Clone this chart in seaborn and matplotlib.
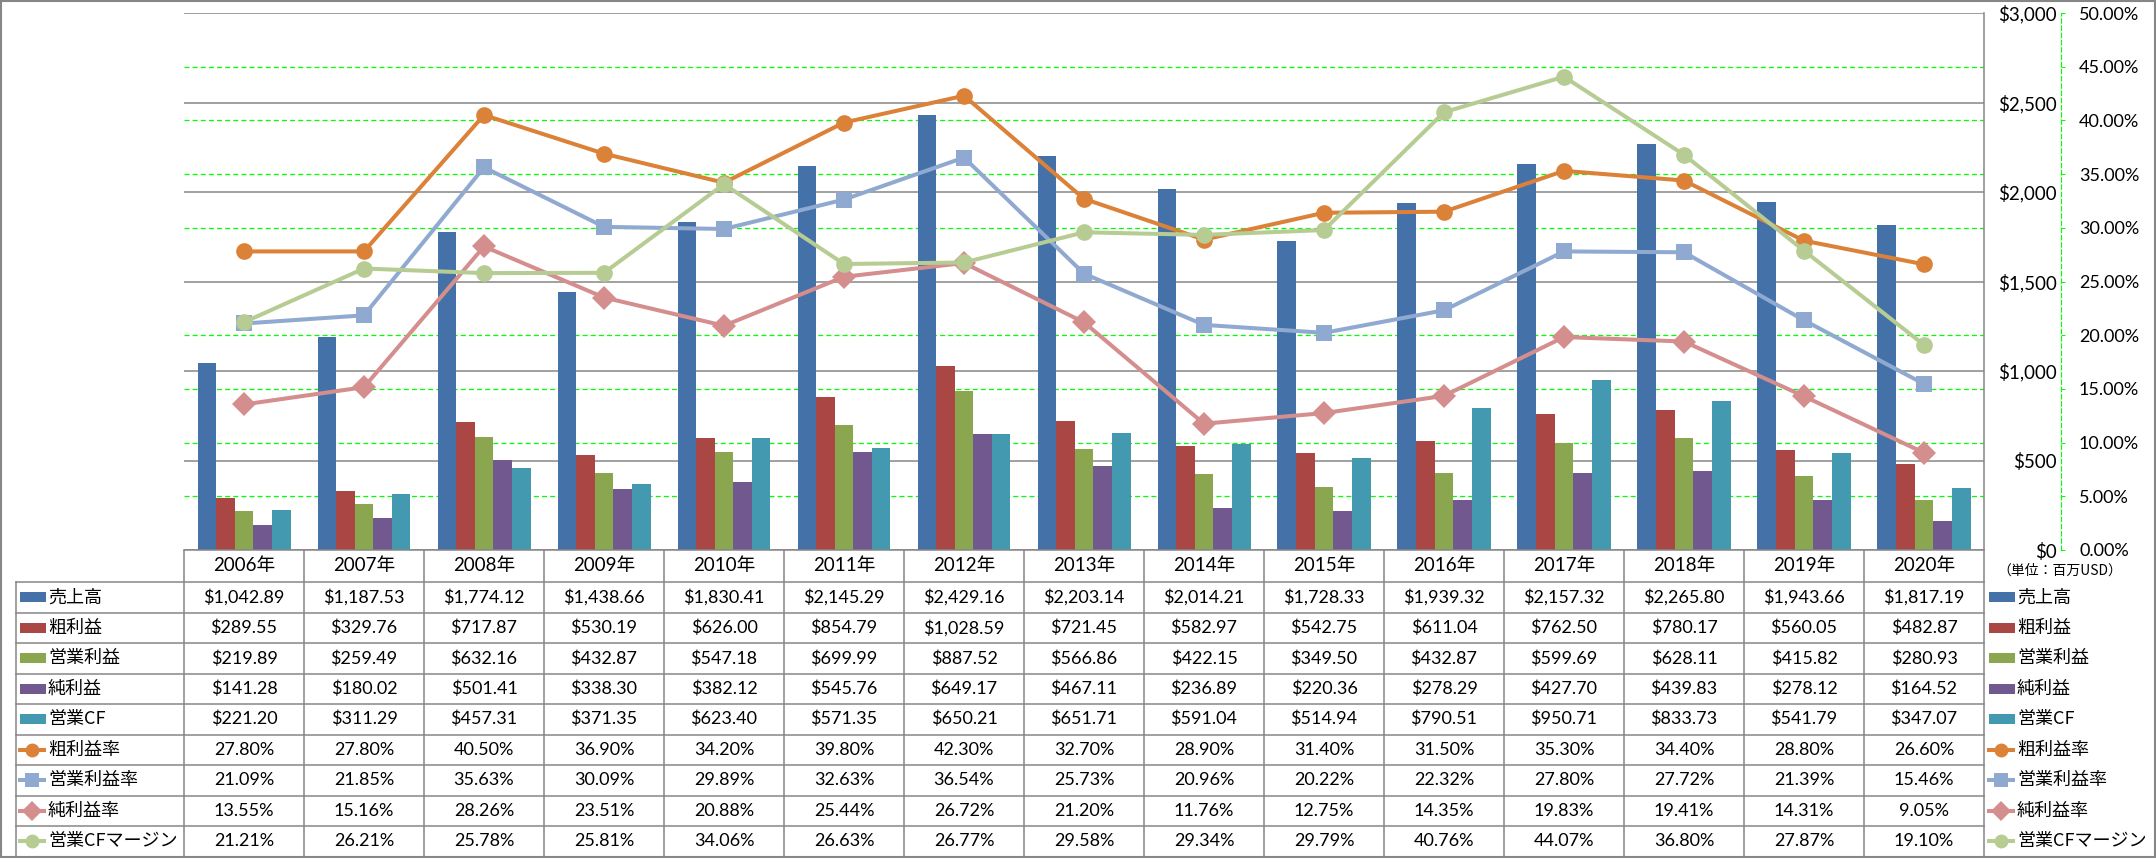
import matplotlib
matplotlib.use("Agg")
import matplotlib.pyplot as plt
import matplotlib.transforms as mtransforms
from matplotlib.patches import Rectangle
from matplotlib.ticker import MultipleLocator, FuncFormatter
import pandas as pd
import seaborn as sns

plt.rcParams["font.family"] = ["Lato", "Noto Sans CJK JP", "DejaVu Sans"]

# Data (million USD / %)
years = ["2006年", "2007年", "2008年", "2009年", "2010年", "2011年", "2012年", "2013年",
         "2014年", "2015年", "2016年", "2017年", "2018年", "2019年", "2020年"]

sales = [1042.89, 1187.53, 1774.12, 1438.66, 1830.41, 2145.29, 2429.16, 2203.14,
         2014.21, 1728.33, 1939.32, 2157.32, 2265.80, 1943.66, 1817.19]
gross_profit = [289.55, 329.76, 717.87, 530.19, 626.00, 854.79, 1028.59, 721.45,
                582.97, 542.75, 611.04, 762.50, 780.17, 560.05, 482.87]
op_profit = [219.89, 259.49, 632.16, 432.87, 547.18, 699.99, 887.52, 566.86,
             422.15, 349.50, 432.87, 599.69, 628.11, 415.82, 280.93]
net_profit = [141.28, 180.02, 501.41, 338.30, 382.12, 545.76, 649.17, 467.11,
              236.89, 220.36, 278.29, 427.70, 439.83, 278.12, 164.52]
op_cf = [221.20, 311.29, 457.31, 371.35, 623.40, 571.35, 650.21, 651.71,
         591.04, 514.94, 790.51, 950.71, 833.73, 541.79, 347.07]

gross_margin = [27.80, 27.80, 40.50, 36.90, 34.20, 39.80, 42.30, 32.70,
                28.90, 31.40, 31.50, 35.30, 34.40, 28.80, 26.60]
op_margin = [21.09, 21.85, 35.63, 30.09, 29.89, 32.63, 36.54, 25.73,
             20.96, 20.22, 22.32, 27.80, 27.72, 21.39, 15.46]
net_margin = [13.55, 15.16, 28.26, 23.51, 20.88, 25.44, 26.72, 21.20,
              11.76, 12.75, 14.35, 19.83, 19.41, 14.31, 9.05]
cf_margin = [21.21, 26.21, 25.78, 25.81, 34.06, 26.63, 26.77, 29.58,
             29.34, 29.79, 40.76, 44.07, 36.80, 27.87, 19.10]

bar_names = ["売上高", "粗利益", "営業利益", "純利益", "営業CF"]
bar_series = [sales, gross_profit, op_profit, net_profit, op_cf]
bar_colors = ["#4472A8", "#AA4644", "#8AA64E", "#71598F", "#4299B0"]

line_names = ["粗利益率", "営業利益率", "純利益率", "営業CFマージン"]
line_series = [gross_margin, op_margin, net_margin, cf_margin]
line_colors = ["#DB8138", "#90A9D0", "#D48E8D", "#B6CC93"]
line_markers = ["o", "s", "D", "o"]

bar_df = pd.DataFrame(
    [(y, n, v) for n, s in zip(bar_names, bar_series) for y, v in zip(years, s)],
    columns=["年", "指標", "値"])
line_df = pd.DataFrame(
    [(y, n, v) for n, s in zip(line_names, line_series) for y, v in zip(years, s)],
    columns=["年", "指標", "値"])

GRAY = "#868686"
GREEN = "#00FF00"
W, H = 2156, 858

fig = plt.figure(figsize=(W / 100, H / 100), dpi=100)
tab = fig.add_axes([0, 0, 1, 1])
tab.set_xlim(0, W)
tab.set_ylim(H, 0)
tab.axis("off")

ax = fig.add_axes([184 / W, 308 / H, 1800 / W, 537 / H])
ax2 = ax.twinx()

# Bars
sns.barplot(data=bar_df, x="年", y="値", hue="指標", hue_order=bar_names,
            palette=bar_colors, saturation=1, width=0.775, gap=0,
            errorbar=None, legend=False, ax=ax)
ax.set_ylim(0, 3000)
ax.set_xlabel("")
ax.set_ylabel("")
ax.set_axisbelow(True)
ax.yaxis.set_major_locator(MultipleLocator(500))
ax.yaxis.set_minor_locator(MultipleLocator(300))
ax.yaxis.set_major_formatter(FuncFormatter(lambda v, p: f"${v:,.0f}"))
ax.grid(axis="y", which="major", color=GRAY, lw=1.1)
ax.grid(axis="y", which="minor", color=GREEN, lw=0.9, ls=(0, (4, 2.5)))
ax.tick_params(axis="x", bottom=False, labelbottom=False)
ax.tick_params(axis="y", which="both", left=False, labelleft=False,
               right=False, labelright=True, length=0)
ax.tick_params(axis="y", which="major", pad=52.5, labelsize=13.5)
for t in ax.yaxis.get_major_ticks():
    t.label2.set_horizontalalignment("right")
for side in ["left", "top"]:
    ax.spines[side].set_visible(False)
for side in ["right", "bottom"]:
    ax.spines[side].set_color(GRAY)
    ax.spines[side].set_linewidth(1.1)

# Lines (ratios)
sns.pointplot(data=line_df, x="年", y="値", hue="指標", hue_order=line_names,
              palette=line_colors, markers=line_markers, linestyles="-",
              errorbar=None, legend=False, ax=ax2,
              linewidth=2.9, markersize=12, markeredgewidth=0)
ax2.set_ylim(0, 50)
ax2.set_xlabel("")
ax2.set_ylabel("")
ax2.yaxis.set_major_locator(MultipleLocator(5))
ax2.yaxis.set_major_formatter(FuncFormatter(lambda v, p: f"{v:.2f}%"))
ax2.tick_params(axis="y", direction="out", length=3, width=0.75, color=GREEN,
                pad=10, labelsize=13)
for side in ["left", "top", "bottom"]:
    ax2.spines[side].set_visible(False)
ax2.spines["right"].set_position(("outward", 55.4))
ax2.spines["right"].set_color(GREEN)
ax2.spines["right"].set_linewidth(0.8)
ax2.spines["right"].set_linestyle((0, (4, 2.5)))

# Data table below the plot
blend = mtransforms.blended_transform_factory(ax.transData, tab.transData)
n = len(years)
top, head_bot, row_h = 550, 582, 30.5
row_tops = [head_bot + row_h * k for k in range(10)]
bottom = row_tops[-1]

for i in range(n + 1):
    tab.plot([i - 0.5, i - 0.5], [top, bottom], color=GRAY, lw=1.1,
             transform=blend, solid_capstyle="butt")
tab.plot([16, 16], [head_bot, bottom], color=GRAY, lw=1.1)
for yk in row_tops:
    tab.plot([16, 1984], [yk, yk], color=GRAY, lw=1.1)

for i, y in enumerate(years):
    tab.text(i, (top + head_bot) / 2, y, transform=blend, ha="center",
             va="center", fontsize=13.5, parse_math=False)

all_names = bar_names + line_names
all_rows = [[f"${v:,.2f}" for v in s] for s in bar_series] + \
           [[f"{v:.2f}%" for v in s] for s in line_series]

for r, (name, cells) in enumerate(zip(all_names, all_rows)):
    yc = row_tops[r] + row_h / 2
    for i, txt in enumerate(cells):
        tab.text(i, yc, txt, transform=blend, ha="center", va="center",
                 fontsize=13, parse_math=False)
    for x0, xt in [(20, 48), (1989, 2017)]:
        if r < len(bar_names):
            tab.add_patch(Rectangle((x0, yc - 5), 26, 10, color=bar_colors[r], lw=0))
        else:
            c = line_colors[r - len(bar_names)]
            m = line_markers[r - len(bar_names)]
            tab.plot([x0 - 2, x0 + 26], [yc, yc], color=c, lw=2.9, solid_capstyle="butt")
            tab.plot([x0 + 12], [yc], marker=m, ms=10, color=c, mew=0)
        tab.text(xt, yc, name, ha="left", va="center", fontsize=13,
                 family=["Noto Sans CJK JP"])

tab.text(2060, 571, "（単位：百万USD）", ha="center", va="center", fontsize=10,
         family=["Noto Sans CJK JP"])

# outer frame
tab.add_patch(Rectangle((1, 1), W - 2, H - 2, fill=False, ec=GRAY, lw=1.5))

fig.savefig("out.png", dpi=100)
